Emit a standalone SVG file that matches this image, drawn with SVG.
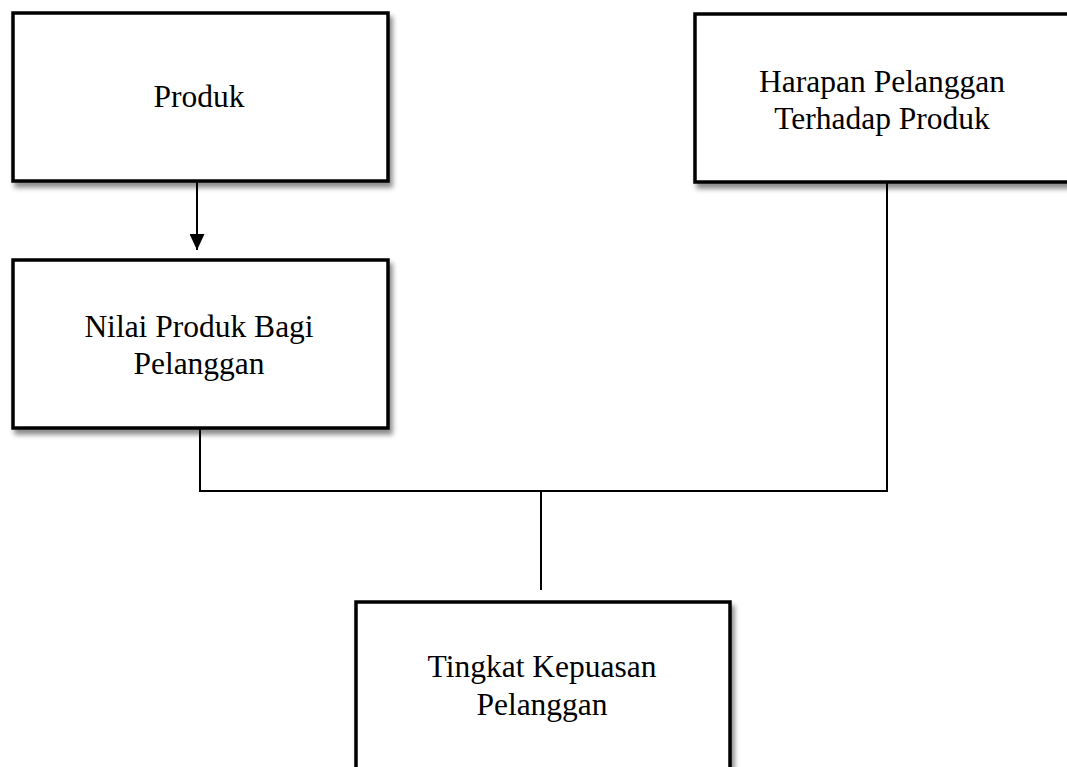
<svg xmlns="http://www.w3.org/2000/svg" width="1067" height="767" viewBox="0 0 1067 767">
<defs>
<filter id="sh" x="-10%" y="-10%" width="130%" height="140%">
<feDropShadow dx="3" dy="5" stdDeviation="2.5" flood-color="#000" flood-opacity="0.45"/>
</filter>
<marker id="arr" markerWidth="16" markerHeight="15" refX="16" refY="7.5" orient="auto" markerUnits="userSpaceOnUse" viewBox="0 0 16 15">
<path d="M0,0 L16,7.5 L0,15 Z" fill="#000"/>
</marker>
</defs>
<style>
.box{fill:#fff;stroke:#000;stroke-width:3.5;filter:url(#sh)}
.lbl{font-family:"Liberation Serif","Times New Roman",serif;font-size:31.5px;fill:#000;text-anchor:middle}
.con{fill:none;stroke:#000;stroke-width:2}
</style>
<rect width="1067" height="767" fill="#fff"/>
<g id="connectors">
<line class="con" x1="197" y1="182" x2="197" y2="250" stroke-width="2.5" marker-end="url(#arr)"/>
<polyline class="con" points="200,428 200,491 887,491 887,182"/>
<line class="con" x1="541" y1="491" x2="541" y2="590"/>
</g>
<g id="produk">
<rect class="box" x="13" y="13" width="375" height="168"/>
<text class="lbl" x="199" y="107">Produk</text>
</g>
<g id="harapan">
<rect class="box" x="695" y="14" width="380" height="168"/>
<text class="lbl" x="882" y="92">Harapan Pelanggan</text>
<text class="lbl" x="882" y="129">Terhadap Produk</text>
</g>
<g id="nilai">
<rect class="box" x="13" y="260" width="375" height="168"/>
<text class="lbl" x="199" y="337">Nilai Produk Bagi</text>
<text class="lbl" x="199" y="374">Pelanggan</text>
</g>
<g id="tingkat">
<rect class="box" x="356" y="602" width="374" height="180"/>
<text class="lbl" x="542" y="677">Tingkat Kepuasan</text>
<text class="lbl" x="542" y="715">Pelanggan</text>
</g>
</svg>
